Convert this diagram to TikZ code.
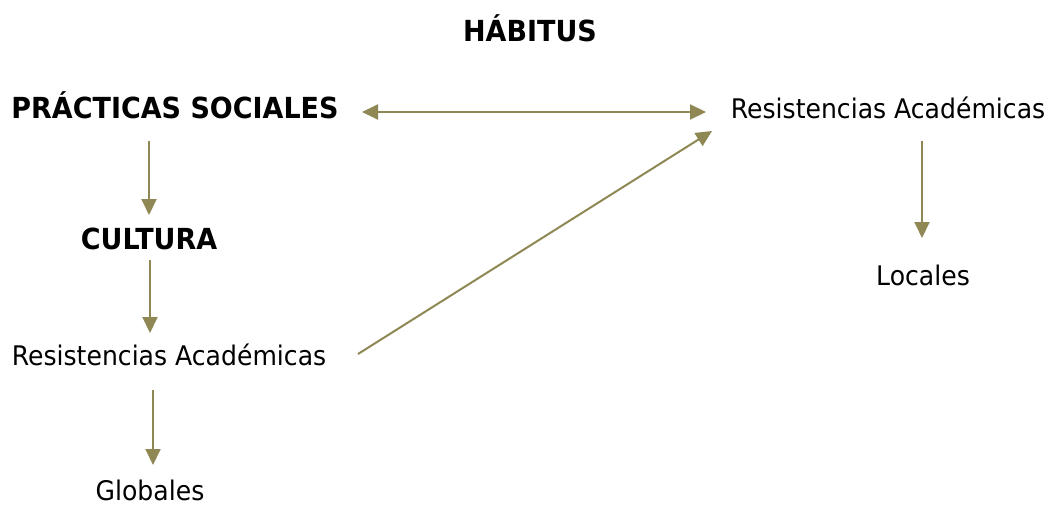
\documentclass[tikz,border=0pt]{standalone}
\usepackage{fontspec}
\setmainfont{DejaVu Sans}[FakeStretch=0.93]
\usetikzlibrary{arrows.meta}
\definecolor{olive}{RGB}{143,136,84}
\begin{document}
\begin{tikzpicture}[x=1pt,y=-1pt,
  lbl/.style={inner sep=0pt,anchor=base,font=\fontsize{27}{32}\selectfont},
  blbl/.style={inner sep=0pt,anchor=base,font=\fontsize{29}{34}\selectfont\bfseries},
  arr/.style={draw=olive,line width=2pt,-{Triangle[length=16pt,width=15pt,fill=olive]}},
  darr/.style={draw=olive,line width=2pt,{Triangle[length=16pt,width=15pt,fill=olive]}-{Triangle[length=16pt,width=15pt,fill=olive]}}]
\useasboundingbox (0,0) rectangle (1051,505);
\node[blbl] (hab) at (530,42) {HÁBITUS};
\node[blbl] (ps) at (175,119) {PRÁCTICAS SOCIALES};
\node[blbl] (cul) at (149,249) {CULTURA};
\node[lbl] (ra1) at (169,365) {Resistencias Académicas};
\node[lbl] (glo) at (150,500) {Globales};
\node[lbl] (ra2) at (888,119) {Resistencias Académicas};
\node[lbl] (loc) at (923,285) {Locales};
\coordinate (ps-r) at (362,112);
\coordinate (ra2-l) at (706,112);
\coordinate (ps-b) at (149,141);
\coordinate (cul-t) at (149,215);
\coordinate (cul-b) at (150,260);
\coordinate (ra1-t) at (150,333);
\coordinate (ra1-b) at (153,390);
\coordinate (glo-t) at (153,465);
\coordinate (ra2-b) at (922,141);
\coordinate (loc-t) at (922,238);
\coordinate (ra1-r) at (358,354);
\coordinate (ra2-bl) at (712,131);
\draw[darr] (ps-r) -- (ra2-l);
\draw[arr] (ps-b) -- (cul-t);
\draw[arr] (cul-b) -- (ra1-t);
\draw[arr] (ra1-b) -- (glo-t);
\draw[arr] (ra2-b) -- (loc-t);
\draw[arr] (ra1-r) -- (ra2-bl);
\end{tikzpicture}
\end{document}
